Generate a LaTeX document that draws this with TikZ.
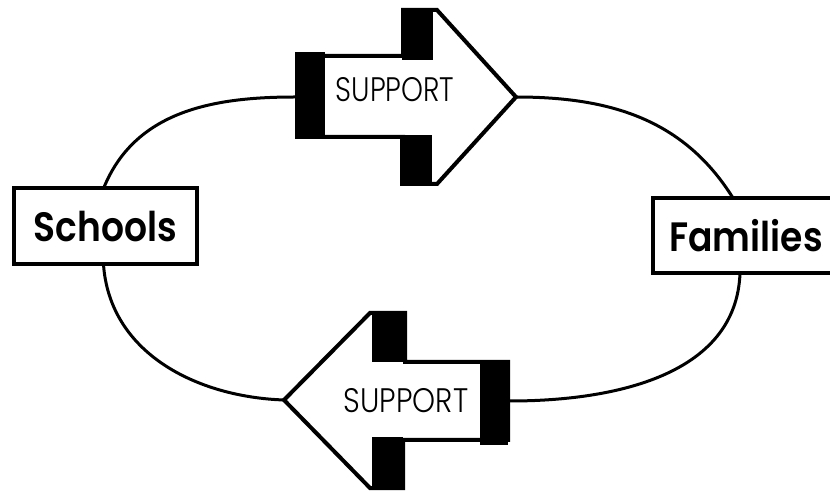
\documentclass[tikz,border=0pt]{standalone}
\usepackage{fontspec}
\setmainfont{Poppins}[BoldFont={* SemiBold}]
\newfontfamily\suplight{Poppins Light}
\usetikzlibrary{calc}
\newcommand{\narrowtxt}[2]{\scalebox{#1}[1]{#2}}
\begin{document}
\begin{tikzpicture}[x=1pt,y=1pt,
  box/.style={draw=black,line width=4pt,fill=white,minimum width=183pt,minimum height=76pt,inner sep=0pt,font=\fontsize{41}{41}\selectfont\bfseries},
  arrowbody/.style={draw=black,line width=4pt,fill=white,line join=miter},
  blk/.style={fill=black},
  loop/.style={draw=black,line width=3pt},
  suptext/.style={font=\fontsize{34}{34}\suplight,inner sep=0pt}]
\useasboundingbox (0,0) rectangle (830,490);
\begin{scope}
\clip (0,0) rectangle (830,490);
% boxes
\node[box] (sch) at (105.5,263.5) {\narrowtxt{0.88}{Schools}};
\node[box,minimum width=186pt,minimum height=75pt] (fam) at (746,254.5) {\narrowtxt{0.88}{Families}};
% top arrow
\coordinate (ta-tail) at (295,393);
\coordinate (ta-tip) at (516,393);
\draw[arrowbody] (297,434) -- (403,434) -- (403,480) -- (437,480) -- (ta-tip) -- (437,306) -- (403,306) -- (403,353) -- (297,353) -- cycle;
\fill[blk] (295,351) rectangle (325,438);
\fill[blk] (402,430) rectangle (433,482);
\fill[blk] (400,304) rectangle (432,355);
\node[suptext] (ts) at (395,400) {\narrowtxt{0.82}{SUPPORT}};
% bottom arrow
\coordinate (ba-tail) at (510,89);
\coordinate (ba-tip) at (284,90);
\draw[arrowbody] (508,128) -- (405,128) -- (405,177) -- (370,177) -- (ba-tip) -- (370,2) -- (403,2) -- (403,50) -- (508,50) -- cycle;
\fill[blk] (372,128) rectangle (405,179);
\fill[blk] (480,45) rectangle (508,130);
\fill[blk] (372,0) rectangle (403,53);
\node[suptext] (bs) at (406,89) {\narrowtxt{0.86}{SUPPORT}};
% loop
\draw[loop] ($(sch.north)+(-2,-2)$) to[out=68,in=180] (ta-tail);
\draw[loop] (ta-tip) to[out=0,in=122] ($(fam.north)+(-13,-2)$);
\draw[loop] ($(sch.south)+(-2,2)$) to[out=-86,in=178] (ba-tip);
\draw[loop] ($(fam.south)+(-6,2)$) to[out=-92,in=0] (ba-tail);
\end{scope}
\end{tikzpicture}
\end{document}
